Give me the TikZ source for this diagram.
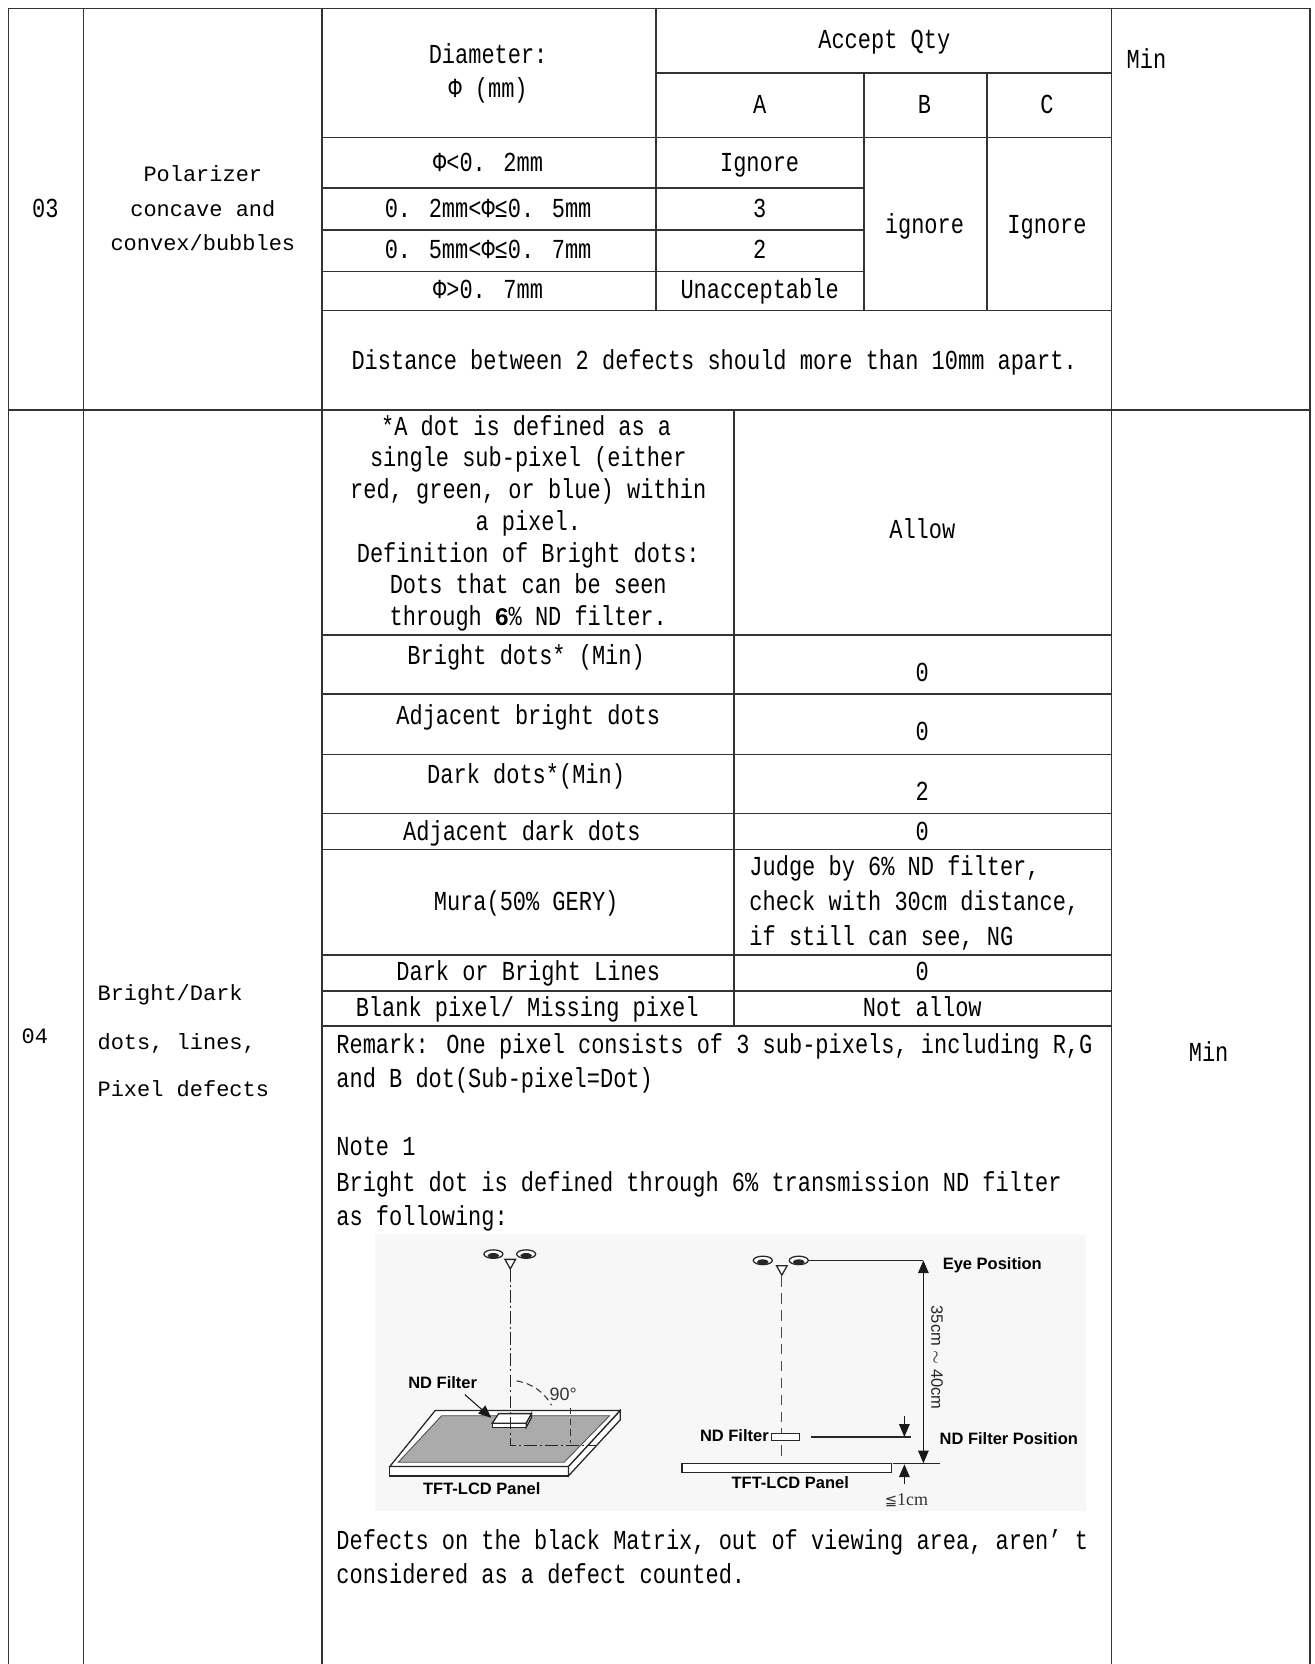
\documentclass[tikz,border=0pt]{standalone}
\usepackage{fontspec}
\newfontfamily\narrowfont[FakeStretch=0.8]{Liberation Mono}
\newfontfamily\widefont{Liberation Mono}
\newfontfamily\labelfont{Liberation Sans}
\newfontfamily\symbfont{DejaVu Sans}
\newfontfamily\smallserif{Liberation Serif}
\usetikzlibrary{arrows.meta}
\begin{document}
\begin{tikzpicture}[x=0.5pt,y=-0.5pt,
  grid/.style={line width=0.8pt, draw=black!80},
  nt/.style={font=\narrowfont\fontsize{13pt}{15pt}\selectfont, inner sep=0pt, anchor=base},
  ntl/.style={nt, anchor=base west},
  wt/.style={font=\widefont\fontsize{10.4pt}{13pt}\selectfont, inner sep=0pt, anchor=base},
  wtl/.style={wt, anchor=base west},
  lbl/.style={font=\labelfont\bfseries\fontsize{7.8pt}{9pt}\selectfont, inner sep=0pt},
  thin line/.style={line width=0.6pt, draw=black!85},
  dashdot/.style={line width=0.55pt, draw=black!85, dash pattern=on 6pt off 1.5pt on 1pt off 1.5pt},
  longdash/.style={line width=0.55pt, draw=black!70, dash pattern=on 5pt off 3pt},
  tip/.style={-{Triangle[width=5pt,length=6pt]}, line width=0.5pt},
  eye/.style={line width=0.6pt, draw=black!85, fill=white}
]
\useasboundingbox (0,0) rectangle (1244,1575);

% ---------------- table grid ----------------
\foreach \x in {8,79,305,1052,1240} \draw[grid] (\x,8) -- (\x,1575);
\draw[grid] (8,8) -- (1240,8);
\draw[grid] (8,388) -- (1240,388);
% row 03
\draw[grid] (621,8) -- (621,294);
\draw[grid] (621,69) -- (1052,69);
\draw[grid] (818,69) -- (818,294);
\draw[grid] (934,69) -- (934,294);
\draw[grid] (305,130) -- (1052,130);
\foreach \y in {178,218,257} \draw[grid] (305,\y) -- (818,\y);
\draw[grid] (305,294) -- (1052,294);
% row 04
\draw[grid] (695,388) -- (695,971);
\foreach \y in {601,657,714,770,804,904,938,971} \draw[grid] (305,\y) -- (1052,\y);

% ---------------- row 03 texts ----------------
\node[nt] (n03) at (43,206) {03};
\node[wt] (pol1) at (192,172) {Polarizer};
\node[wt] (pol2) at (192,205) {concave and};
\node[wt] (pol3) at (192,237) {convex/bubbles};
\node[nt] (dia1) at (462,60) {Diameter:};
\node[nt] (dia2) at (462,92) {Φ (mm)};
\node[nt] (acc) at (837,46) {Accept Qty};
\node[nt] (ca) at (719,107) {A};
\node[nt] (cb) at (875,107) {B};
\node[nt] (cc) at (991,107) {C};
\node[ntl] (min1) at (1066,65) {Min};
\node[nt] (r1a) at (462,162) {Φ<0. 2mm};
\node[nt] (r1b) at (719,162) {Ignore};
\node[nt] (r2a) at (462,206) {0. 2mm<Φ≤0. 5mm};
\node[nt] (r2b) at (719,206) {3};
\node[nt] (r3a) at (462,245) {0. 5mm<Φ≤0. 7mm};
\node[nt] (r3b) at (719,245) {2};
\node[nt] (r4a) at (462,283) {Φ>0. 7mm};
\node[nt] (r4b) at (719,283) {Unacceptable};
\node[nt] (bign) at (875,221) {ignore};
\node[nt] (cign) at (991,221) {Ignore};
\node[nt] (dist) at (676,350) {Distance between 2 defects should more than 10mm apart.};

% ---------------- row 04 texts ----------------
\node[wt] (n04) at (33,988) {04};
\node[wtl] (bd1) at (92,947) {Bright/Dark};
\node[wtl] (bd2) at (92,993) {dots, lines,};
\node[wtl] (bd3) at (92,1038) {Pixel defects};

\node[nt] (d1) at (498,412) {*A dot is defined as a};
\node[nt] (d2) at (500,442) {single sub-pixel (either};
\node[nt] (d3) at (500,472) {red, green, or blue) within};
\node[nt] (d4) at (500,502) {a pixel.};
\node[nt] (d5) at (500,532) {Definition of Bright dots:};
\node[nt] (d6) at (500,562) {Dots that can be seen};
\node[nt] (d7) at (500,592) {through {\labelfont\bfseries\fontsize{11.5pt}{15pt}\selectfont 6}\% ND filter.};
\node[nt] (allow) at (873,510) {Allow};

\node[nt] (bdm) at (498,629) {Bright dots* (Min)};
\node[nt] (bdv) at (873,645) {0};
\node[nt] (abd) at (500,686) {Adjacent bright dots};
\node[nt] (abv) at (873,701) {0};
\node[nt] (ddm) at (498,742) {Dark dots*(Min)};
\node[nt] (ddv) at (873,758) {2};
\node[nt] (add) at (494,796) {Adjacent dark dots};
\node[nt] (adv) at (873,796) {0};
\node[nt] (mura) at (498,862) {Mura(50\% GERY)};
\node[ntl] (j1) at (709,829) {Judge by 6\% ND filter,};
\node[ntl] (j2) at (709,862) {check with 30cm distance,};
\node[ntl] (j3) at (709,895) {if still can see, NG};
\node[nt] (dbl) at (500,928) {Dark or Bright Lines};
\node[nt] (dbv) at (873,928) {0};
\node[nt] (blk) at (499,962) {Blank pixel/ Missing pixel};
\node[nt] (blv) at (873,962) {Not allow};

\node[ntl] (rm1) at (318,997) {Remark: One pixel consists of 3 sub-pixels, including R,G};
\node[ntl] (rm2) at (318,1029) {and B dot(Sub-pixel=Dot)};
\node[ntl] (nt1) at (318,1094) {Note 1};
\node[ntl] (nt2) at (318,1128) {Bright dot is defined through 6\% transmission ND filter};
\node[ntl] (nt3) at (318,1160) {as following:};
\node[ntl] (df1) at (318,1467) {Defects on the black Matrix, out of viewing area, aren’ t};
\node[ntl] (df2) at (318,1499) {considered as a defect counted.};
\node[nt] (min2) at (1144,1005) {Min};

% ---------------- illustration ----------------
\fill[black!3] (355,1168) rectangle (1028,1430);

% left figure: eyes
\foreach \ex in {467,498} {
  \draw[eye] (\ex,1187) ellipse [x radius=9, y radius=4];
  \fill[black!85] (\ex,1188.5) ellipse [x radius=5.5, y radius=2.5];
}
\draw[thin line, fill=white] (478,1192) -- (488,1192) -- (483,1201) -- cycle;
% panel
\draw[thin line, fill=white] (369,1388) rectangle (538,1397);
\draw[thin line, fill=white] (538,1388) -- (587,1335) -- (587,1344) -- (538,1397) -- cycle;
\draw[thin line, fill=white] (412,1335) -- (587,1335) -- (538,1388) -- (369,1388) -- cycle;
\fill[black!33] (418,1340) -- (577,1340) -- (534,1384) -- (377,1384) -- cycle;
\draw[line width=0.4pt, black!70] (418,1340) -- (577,1340) -- (534,1384) -- (377,1384) -- cycle;
% filter on panel
\draw[thin line, fill=white] (466,1347) rectangle (498,1351);
\draw[thin line, fill=white] (498,1347) -- (503,1338) -- (503,1342) -- (498,1351) -- cycle;
\draw[thin line, fill=white] (472,1338) -- (503,1338) -- (498,1347) -- (466,1347) -- cycle;
% sight line and right angle
\coordinate (nose1) at (483,1201);
\coordinate (foot1) at (483,1368);
\coordinate (foot1e) at (565,1368);
\draw[dashdot] (nose1) -- (foot1) -- (foot1e);
\draw[line width=0.5pt, black!80, dash pattern=on 3pt off 2pt] (540,1343) -- (540,1366);
\draw[line width=0.6pt, black!80] (540,1333) -- (540,1338);
\draw[line width=0.5pt, black!80, dash pattern=on 3pt off 2pt] (489,1307) .. controls (505,1310) and (515,1318) .. (522,1330);
\node[font=\labelfont\fontsize{8.5pt}{9pt}\selectfont, inner sep=0pt, black!80] (ang) at (533,1320) {90°};
\node[lbl] (ndf1) at (419,1309) {ND Filter};
\coordinate (ndf1tip) at (465,1342);
\draw[tip, black!90] (440,1320) -- (ndf1tip);
\node[lbl] (tft1) at (456,1409) {TFT-LCD Panel};

% right figure: eyes
\foreach \ex in {722,756} {
  \draw[eye] (\ex,1193) ellipse [x radius=9, y radius=4];
  \fill[black!85] (\ex,1194.5) ellipse [x radius=5.5, y radius=2.5];
}
\draw[thin line, fill=white] (735,1198) -- (745,1198) -- (740,1207) -- cycle;
\coordinate (eyeline) at (765,1193);
\coordinate (eyetop) at (874,1193);
\coordinate (panelmark) at (874,1385);
\draw[thin line] (eyeline) -- (eyetop);
\draw[{Triangle[width=5pt,length=6pt]}-{Triangle[width=5pt,length=6pt]}, line width=0.5pt, black!90] (eyetop) -- (panelmark);
\draw[longdash] (740,1208) -- (740,1383);
% ND filter
\node[draw=black!85, line width=0.5pt, fill=white, minimum width=13.5pt, minimum height=3pt, inner sep=0pt] (ndbox) at (743.5,1360) {};
\node[lbl, anchor=east] (ndf2) at (728,1359) {ND Filter};
\coordinate (ndline) at (768,1360);
\coordinate (ndlineE) at (862,1360);
\draw[thin line] (ndline) -- (ndlineE);
% panel
\node[draw=black!85, line width=0.5pt, fill=white, minimum width=99pt, minimum height=4pt, inner sep=0pt, anchor=north west] (panel2) at (645,1385) {};
\draw[thin line] (845,1385) -- (890,1385);
\coordinate (gapA) at (856,1340);
\coordinate (gapB) at (856,1360);
\coordinate (gapC) at (856,1405);
\coordinate (gapD) at (856,1386);
\draw[tip, black!90] (gapA) -- (gapB);
\draw[tip, black!90] (gapC) -- (gapD);
\node[lbl] (tft2) at (748,1403) {TFT-LCD Panel};
\node[lbl, anchor=base west] (eyep) at (892,1202) {Eye Position};
\node[lbl, anchor=base west] (ndpos) at (889,1367) {ND Filter Position};
\node[font=\labelfont\fontsize{7.8pt}{9pt}\selectfont, inner sep=0pt, rotate=-90, black!85] (dist2) at (887,1285) {35cm $\sim$ 40cm};
\node[inner sep=0pt, black!80] (le1) at (858,1420) {{\symbfont\fontsize{7pt}{8pt}\selectfont ≦}{\smallserif\fontsize{8.5pt}{9pt}\selectfont 1cm}};
\end{tikzpicture}
\end{document}
